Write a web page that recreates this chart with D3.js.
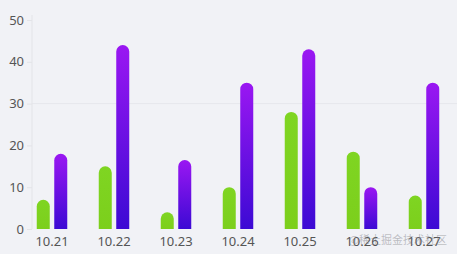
<!DOCTYPE html>
<html>
<head lang="en">
    <meta charset="UTF-8">
    <title>bar chart</title>
    <script src="https://d3js.org/d3.v7.min.js"></script>
    <style>
        html, body { margin: 0; padding: 0; background: #f1f2f6; }
        text { font-family: "Noto Sans", "DejaVu Sans", sans-serif; }
    </style>
</head>
<body>
<svg id="chart" width="457" height="254"></svg>
<script>
    const DAYS = ["10.21", "10.22", "10.23", "10.24", "10.25", "10.26", "10.27"];
    const GREEN = [7, 15, 4, 10, 28, 18.5, 8];
    const PURPLE = [18, 44, 16.5, 35, 43, 10, 35];
    const Y_TICKS = [0, 10, 20, 30, 40, 50];

    let svg = d3.select('#chart');

    let x = d3.scaleBand().domain(DAYS).range([21, 455]);
    let y = d3.scaleLinear().domain([0, 50]).range([229, 20]);

    let defs = svg.append('defs');
    let gp = defs.append('linearGradient').attr('id', 'gp')
        .attr('x1', 0).attr('y1', 0).attr('x2', 0).attr('y2', 1);
    gp.append('stop').attr('offset', '0%').attr('stop-color', '#9a17f2');
    gp.append('stop').attr('offset', '100%').attr('stop-color', '#3c0ad4');
    let gg = defs.append('linearGradient').attr('id', 'gg')
        .attr('x1', 0).attr('y1', 0).attr('x2', 0).attr('y2', 1);
    gg.append('stop').attr('offset', '0%').attr('stop-color', '#7fd522');
    gg.append('stop').attr('offset', '100%').attr('stop-color', '#7ccf1c');

    // split line at 30 (only visible one)
    svg.append('line')
        .attr('x1', 32).attr('x2', 457)
        .attr('y1', y(30)).attr('y2', y(30))
        .attr('stroke', '#e6e7ec').attr('stroke-width', 1);

    // y axis
    let yAxis = svg.append('g')
        .attr('transform', 'translate(32,0)')
        .call(d3.axisLeft(y).tickValues(Y_TICKS).tickSize(5).tickPadding(3));
    yAxis.select('.domain').attr('stroke', '#e3e4e8').attr('d', `M0,${y(50) - 5}V${y(0)}`);
    yAxis.selectAll('.tick line').attr('stroke', '#e3e4e8');
    yAxis.selectAll('.tick text').attr('fill', '#555').style('font-size', '13px')
        .style('font-family', '"Noto Sans", sans-serif');

    // x labels
    svg.append('g').selectAll('text').data(DAYS).enter().append('text')
        .attr('x', d => x(d) + x.bandwidth() / 2)
        .attr('y', 246)
        .attr('text-anchor', 'middle')
        .attr('fill', '#555')
        .style('font-size', '13px')
        .text(d => d);

    const BW = 13, OFF = 8.75;

    function barPath(cx, v) {
        let top = y(v), bottom = y(0), r = BW / 2;
        let l = cx - r, rr = cx + r;
        if (bottom - top < r) r = bottom - top;
        return `M${l},${bottom}V${top + r}A${BW / 2},${r} 0 0 1 ${rr},${top + r}V${bottom}Z`;
    }

    svg.append('g').selectAll('path').data(GREEN).enter().append('path')
        .attr('d', (d, i) => barPath(x(DAYS[i]) + x.bandwidth() / 2 - OFF, d))
        .attr('fill', 'url(#gg)');

    svg.append('g').selectAll('path').data(PURPLE).enter().append('path')
        .attr('d', (d, i) => barPath(x(DAYS[i]) + x.bandwidth() / 2 + OFF, d))
        .attr('fill', 'url(#gp)');

    // watermark
    svg.append('text')
        .attr('x', 447).attr('y', 244)
        .attr('text-anchor', 'end')
        .attr('fill', 'rgba(120,120,130,0.45)')
        .style('font-size', '11px')
        .style('font-family', '"Noto Sans CJK SC", sans-serif')
        .text('@稀土掘金技术社区');
</script>
</body>
</html>
